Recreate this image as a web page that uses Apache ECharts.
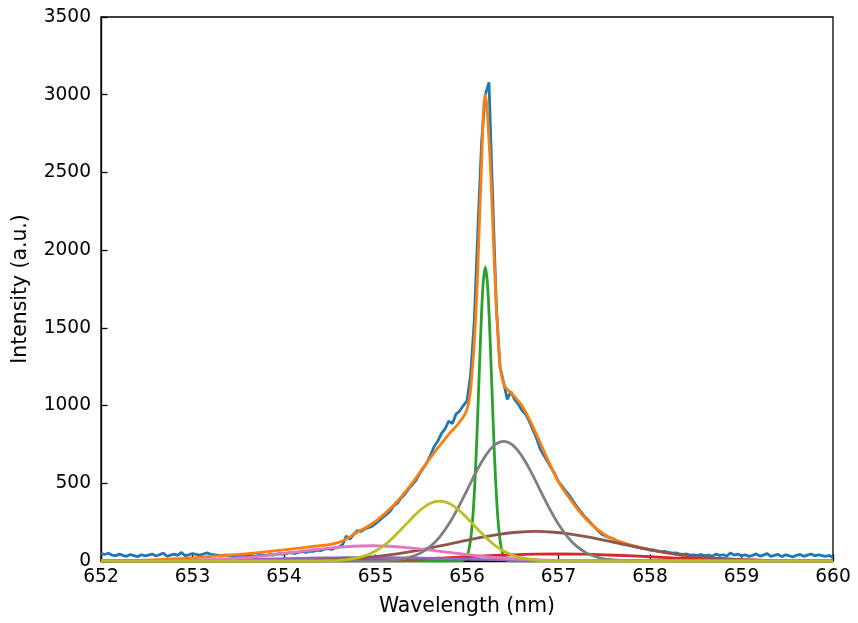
<!DOCTYPE html>
<html>
<head>
<meta charset="utf-8">
<script src="https://cdn.jsdelivr.net/npm/echarts@6/dist/echarts.min.js"></script>
<style>
  html, body { margin: 0; padding: 0; background: #fff; }
  #chart { width: 858px; height: 623px; }
</style>
</head>
<body>
<div id="chart"></div>
<script>
// Measured H-alpha line profile: intensity sampled every 0.04 nm from 652.00 nm
const measuredStart = 652.0;
const measuredStep = 0.04;
const measured = [
  48, 42, 50, 38, 34, 44, 36, 30, 42, 35,          // 652.00
  28, 40, 33, 38, 45, 32, 40, 52, 30, 38,          // 652.40
  44, 36, 55, 34, 40, 48, 42, 38, 45, 52,          // 652.80
  43, 40, 37, 33, 40, 36, 32, 30, 35, 28,          // 653.20
  33, 38, 30, 36, 40, 34, 42, 38, 44, 48,          // 653.60
  42, 50, 54, 48, 56, 60, 55, 64, 62, 70,          // 654.00
  66, 76, 80, 74, 86, 90, 105, 160, 140, 170,      // 654.40
  195, 190, 205, 215, 222, 240, 260, 280, 300, 320, // 654.80
  355, 372, 405, 430, 462, 490, 518, 560, 595, 630, // 655.20
  680, 735, 770, 820, 850, 900, 885, 945, 965, 1000, // 655.60
  1030, 1200, 1550, 2150, 2700, 3000, 3080, 2350, 1650, 1250, // 656.00
  1150, 1040, 1090, 1040, 1010, 970, 945, 900, 845, 790, // 656.40
  720, 680, 640, 600, 560, 510, 480, 450, 420, 385, // 656.80
  350, 320, 290, 265, 240, 215, 190, 170, 160, 150, // 657.20
  142, 130, 122, 112, 105, 98, 90, 88, 80, 78,     // 657.60
  70, 72, 64, 60, 62, 55, 50, 52, 46, 42,          // 658.00
  45, 38, 40, 36, 42, 34, 38, 30, 44, 36,          // 658.40
  40, 32, 52, 38, 44, 34, 40, 30, 36, 46,          // 658.80
  32, 38, 48, 30, 36, 42, 28, 40, 34, 26,          // 659.20
  36, 42, 30, 38, 45, 33, 40, 35, 30, 36,          // 659.60
  20                                               // 660.00
];

// Total fitted profile [wavelength, intensity]
const fitTotal = [
  [652.0, 2], [652.5, 6], [653.0, 20], [653.5, 42], [654.0, 72], [654.3, 92],
  [654.6, 120], [654.8, 185], [655.0, 255], [655.2, 360], [655.4, 500],
  [655.6, 665], [655.8, 815], [655.9, 880], [656.0, 975], [656.05, 1170],
  [656.1, 1620], [656.15, 2400], [656.2, 3000], [656.25, 2600], [656.3, 1900],
  [656.35, 1350], [656.4, 1140], [656.5, 1070], [656.6, 1000], [656.7, 890],
  [656.8, 760], [656.9, 630], [657.0, 510], [657.1, 420], [657.2, 340],
  [657.3, 270], [657.4, 215], [657.5, 172], [657.6, 140], [657.8, 100],
  [658.0, 75], [658.2, 50], [658.5, 25], [659.0, 9], [659.5, 3], [660.0, 1]
];

// Fit components
const narrowPeak = [
  [652.0, 0], [655.9, 0], [655.925, 0.8], [655.95, 3.2], [655.975, 11], [656.0, 32],
  [656.025, 83], [656.05, 190], [656.075, 384], [656.1, 681], [656.125, 1065],
  [656.15, 1465], [656.175, 1773], [656.2, 1890], [656.225, 1773], [656.25, 1465],
  [656.275, 1065], [656.3, 681], [656.325, 384], [656.35, 190], [656.375, 83],
  [656.4, 32], [656.425, 11], [656.45, 3.2], [656.475, 0.8], [656.5, 0], [660.0, 0]
];
const redWing = [
  [652.0, 0], [654.0, 0.5], [654.25, 1], [654.5, 2], [654.75, 3.6], [655.0, 6.1],
  [655.25, 9.7], [655.5, 14.6], [655.75, 20.6], [656.0, 27.3], [656.25, 34],
  [656.5, 39.7], [656.75, 43.6], [657.0, 45], [657.25, 43.6], [657.5, 39.7],
  [657.75, 34], [658.0, 27.3], [658.25, 20.6], [658.5, 14.6], [658.75, 9.7],
  [659.0, 6.1], [659.25, 3.6], [659.5, 2], [659.75, 1], [660.0, 0.5]
];
const blueWing = [
  [652.0, 0], [652.15, 0.5], [652.4, 1], [652.65, 1.75], [652.9, 3], [653.15, 4.8],
  [653.4, 7.2], [653.65, 10.1], [653.9, 13.4], [654.15, 16.6], [654.4, 19.4],
  [654.65, 21.3], [654.9, 22], [655.15, 21.3], [655.4, 19.4], [655.65, 16.6],
  [655.9, 13.4], [656.15, 10.1], [656.4, 7.2], [656.65, 4.8], [656.9, 3],
  [657.15, 1.75], [657.4, 1], [657.65, 0.5], [660.0, 0]
];
const broadRed = [
  [652.0, 0], [653.75, 0.7], [653.95, 1.5], [654.15, 3], [654.35, 5], [654.55, 10],
  [654.75, 16], [654.95, 26], [655.15, 39], [655.35, 57], [655.55, 78],
  [655.75, 102], [655.95, 128], [656.15, 152], [656.35, 172], [656.55, 185],
  [656.75, 190], [656.95, 185], [657.15, 172], [657.35, 152], [657.55, 128],
  [657.75, 102], [657.95, 78], [658.15, 57], [658.35, 39], [658.55, 26],
  [658.75, 16], [658.95, 10], [659.15, 5], [659.35, 3], [659.55, 1.5],
  [659.75, 0.7], [660.0, 0]
];
const broadBlue = [
  [652.0, 0], [652.35, 0.5], [652.55, 1], [652.75, 2], [652.95, 4], [653.15, 8],
  [653.35, 13], [653.55, 21], [653.75, 32], [653.95, 45], [654.15, 59],
  [654.35, 74], [654.55, 86], [654.75, 95], [654.95, 98], [655.15, 95],
  [655.35, 86], [655.55, 74], [655.75, 59], [655.95, 45], [656.15, 32],
  [656.35, 21], [656.55, 13], [656.75, 8], [656.95, 4], [657.15, 2],
  [657.35, 1], [657.55, 0.5], [660.0, 0]
];
const centralRed = [
  [652.0, 0], [654.8, 0.2], [654.9, 0.5], [655.0, 1.2], [655.1, 3], [655.2, 7],
  [655.3, 14], [655.4, 29], [655.5, 54], [655.6, 94], [655.7, 154], [655.8, 236],
  [655.9, 339], [656.0, 455], [656.1, 573], [656.2, 675], [656.3, 745],
  [656.4, 770], [656.5, 745], [656.6, 675], [656.7, 573], [656.8, 455],
  [656.9, 339], [657.0, 236], [657.1, 154], [657.2, 94], [657.3, 54],
  [657.4, 29], [657.5, 14], [657.6, 7], [657.7, 3], [657.8, 1.2], [657.9, 0.5],
  [658.0, 0.2], [660.0, 0]
];
const centralBlue = [
  [652.0, 0], [654.3, 0.3], [654.4, 0.8], [654.5, 2], [654.6, 4.6], [654.7, 10],
  [654.8, 20], [654.9, 37], [655.0, 64], [655.1, 103], [655.2, 155], [655.3, 215],
  [655.4, 277], [655.5, 333], [655.6, 371], [655.7, 385], [655.8, 371],
  [655.9, 333], [656.0, 277], [656.1, 215], [656.2, 155], [656.3, 103],
  [656.4, 64], [656.5, 37], [656.6, 20], [656.7, 10], [656.8, 4.6], [656.9, 2],
  [657.0, 0.8], [657.1, 0.3], [660.0, 0]
];

const xTicks = [652, 653, 654, 655, 656, 657, 658, 659, 660];
const yTicks = [0, 500, 1000, 1500, 2000, 2500, 3000, 3500];

const palette = ['#1f77b4', '#ff7f0e', '#2ca02c', '#d62728', '#9467bd',
                 '#8c564b', '#e377c2', '#7f7f7f', '#bcbd22'];

const measuredPairs = measured.map((v, i) => [measuredStart + i * measuredStep, v]);

const FONT = 'DejaVu Sans';
const TICK_FONT = 18.6;
const NAME_FONT = 20.4;
const LW = 2.8;

function curve(data, color, smooth) {
  return {
    type: 'line',
    data: data,
    showSymbol: false,
    symbol: 'none',
    smooth: smooth,
    clip: true,
    animation: false,
    lineStyle: { color: color, width: LW },
    itemStyle: { color: color }
  };
}

const chart = echarts.init(document.getElementById('chart'), null, { renderer: 'canvas' });
chart.setOption({
  backgroundColor: '#ffffff',
  animation: false,
  grid: {
    left: 101, right: 25, top: 17, bottom: 62,
    show: true, borderColor: '#000', borderWidth: 1.3, backgroundColor: 'transparent'
  },
  xAxis: {
    type: 'value',
    min: xTicks[0], max: xTicks[xTicks.length - 1], interval: 1,
    name: 'Wavelength (nm)', nameLocation: 'middle', nameGap: 36,
    nameTextStyle: { fontFamily: FONT, fontSize: NAME_FONT, color: '#000' },
    axisLine: { show: true, onZero: false, lineStyle: { color: '#000', width: 1.3 } },
    axisTick: { show: true, inside: true, length: 6.5, lineStyle: { color: '#000', width: 1.3 } },
    axisLabel: { fontFamily: FONT, fontSize: TICK_FONT, color: '#000', margin: 7,
                 formatter: v => String(v) },
    splitLine: { show: false }
  },
  yAxis: {
    type: 'value',
    min: yTicks[0], max: yTicks[yTicks.length - 1], interval: 500,
    name: 'Intensity (a.u.)', nameLocation: 'middle', nameGap: 70, nameRotate: 90,
    nameTextStyle: { fontFamily: FONT, fontSize: NAME_FONT, color: '#000' },
    axisLine: { show: true, lineStyle: { color: '#000', width: 1.3 } },
    axisTick: { show: true, inside: true, length: 6.5, lineStyle: { color: '#000', width: 1.3 } },
    axisLabel: { fontFamily: FONT, fontSize: TICK_FONT, color: '#000', margin: 10,
                 formatter: v => String(v) },
    splitLine: { show: false }
  },
  series: [
    curve(measuredPairs, palette[0], false),
    curve(fitTotal, palette[1], 0.4),
    curve(narrowPeak, palette[2], 0.3),
    curve(redWing, palette[3], 0.4),
    curve(blueWing, palette[4], 0.4),
    curve(broadRed, palette[5], 0.4),
    curve(broadBlue, palette[6], 0.4),
    curve(centralRed, palette[7], 0.4),
    curve(centralBlue, palette[8], 0.4)
  ]
});
</script>
</body>
</html>
